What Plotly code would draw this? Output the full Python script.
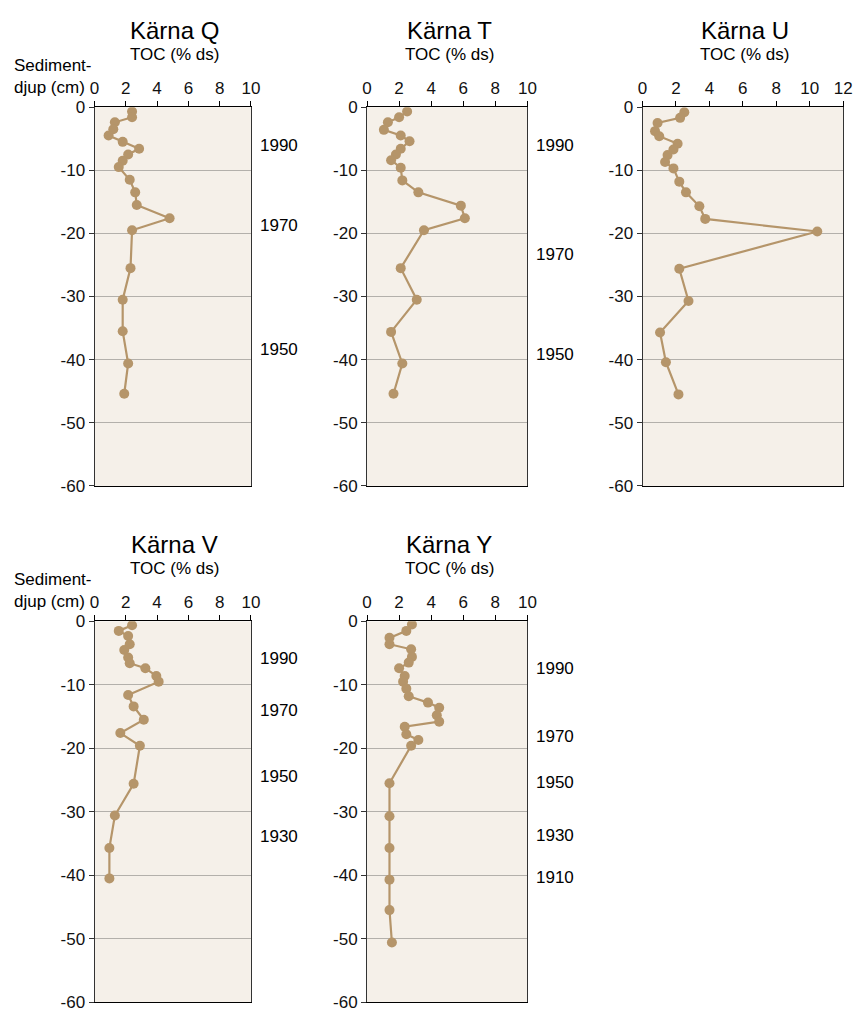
import plotly.graph_objects as go

# Sediment cores: depth (cm, negative downward) and TOC (% of dry substance)
depth_q = [-0.7, -1.6, -2.4, -3.5, -4.5, -5.5, -6.6, -7.5, -8.5, -9.5,
           -11.5, -13.5, -15.5, -17.6, -19.5, -25.5, -30.5, -35.5, -40.6, -45.4]
toc_q = [2.4, 2.4, 1.3, 1.2, 0.9, 1.8, 2.85, 2.15, 1.8, 1.55,
         2.25, 2.6, 2.7, 4.8, 2.4, 2.3, 1.8, 1.8, 2.15, 1.9]

depth_t = [-0.7, -1.6, -2.4, -3.6, -4.5, -5.4, -6.6, -7.5, -8.4, -9.6,
           -11.6, -13.5, -15.6, -17.6, -19.5, -25.5, -30.5, -35.6, -40.6, -45.4]
toc_t = [2.5, 2.0, 1.3, 1.05, 2.1, 2.65, 2.1, 1.8, 1.5, 2.1,
         2.2, 3.2, 5.85, 6.1, 3.55, 2.1, 3.1, 1.5, 2.2, 1.65]

depth_u = [-0.8, -1.7, -2.5, -3.8, -4.6, -5.8, -6.7, -7.6, -8.7, -9.7,
           -11.8, -13.5, -15.7, -17.7, -19.7, -25.6, -30.7, -35.7, -40.4, -45.5]
toc_u = [2.5, 2.25, 0.9, 0.75, 1.0, 2.1, 1.85, 1.5, 1.35, 1.85,
         2.2, 2.6, 3.4, 3.75, 10.45, 2.2, 2.75, 1.05, 1.4, 2.15]

depth_v = [-0.6, -1.5, -2.3, -3.6, -4.5, -5.7, -6.6, -7.4, -8.6, -9.5,
           -11.6, -13.4, -15.5, -17.6, -19.6, -25.6, -30.6, -35.7, -40.5]
toc_v = [2.4, 1.55, 2.15, 2.25, 1.9, 2.15, 2.25, 3.25, 3.95, 4.1,
         2.15, 2.5, 3.15, 1.65, 2.9, 2.5, 1.3, 0.95, 0.95]

depth_y = [-0.5, -1.5, -2.6, -3.6, -4.4, -5.6, -6.5, -7.4, -8.6, -9.5,
           -10.6, -11.8, -12.8, -13.6, -14.8, -15.8, -16.6, -17.8, -18.7, -19.6,
           -25.5, -30.7, -35.7, -40.7, -45.5, -50.6]
toc_y = [2.8, 2.45, 1.4, 1.4, 2.75, 2.8, 2.6, 2.0, 2.35, 2.25,
         2.45, 2.6, 3.8, 4.5, 4.35, 4.5, 2.35, 2.45, 3.2, 2.75,
         1.4, 1.4, 1.4, 1.4, 1.4, 1.55]

# Dating marks shown beside each core
years_q = ["1990", "1970", "1950"]
year_depth_q = [-6.0, -18.7, -38.4]
years_t = ["1990", "1970", "1950"]
year_depth_t = [-6.0, -23.3, -39.2]
years_v = ["1990", "1970", "1950", "1930"]
year_depth_v = [-5.8, -14.1, -24.4, -33.9]
years_y = ["1990", "1970", "1950", "1930", "1910"]
year_depth_y = [-7.4, -18.2, -25.4, -33.7, -40.4]

x_ticks_10 = [0, 2, 4, 6, 8, 10]
x_ticks_12 = [0, 2, 4, 6, 8, 10, 12]
y_ticks = [0, -10, -20, -30, -40, -50, -60]
y_tick_text = ["0", "-10", "-20", "-30", "-40", "-50", "-60"]

W, H = 864, 1019
FONT = "Liberation Sans, Arial, sans-serif"
BROWN = "#b5956a"
BG = "#f5f0e9"

cores = [
    dict(name="Kärna Q", d=depth_q, v=toc_q, xmax=10, xt=x_ticks_10,
         px=(91, 250), py=(100, 486), years=years_q, yd=year_depth_q, label=True),
    dict(name="Kärna T", d=depth_t, v=toc_t, xmax=10, xt=x_ticks_10,
         px=(368, 531), py=(100, 486), years=years_t, yd=year_depth_t, label=False),
    dict(name="Kärna U", d=depth_u, v=toc_u, xmax=12, xt=x_ticks_12,
         px=(648, 852), py=(100, 486), years=[], yd=[], label=False),
    dict(name="Kärna V", d=depth_v, v=toc_v, xmax=10, xt=x_ticks_10,
         px=(91, 250), py=(624, 1012), years=years_v, yd=year_depth_v, label=True),
    dict(name="Kärna Y", d=depth_y, v=toc_y, xmax=10, xt=x_ticks_10,
         px=(368, 531), py=(624, 1012), years=years_y, yd=year_depth_y, label=False),
]

fig = go.Figure()
annotations = []
layout = {}

for i, c in enumerate(cores, start=1):
    sfx = "" if i == 1 else str(i)
    xa, ya = "x" + sfx, "y" + sfx
    fig.add_trace(go.Scatter(
        x=c["v"], y=c["d"], mode="lines+markers", xaxis=xa, yaxis=ya,
        line=dict(color=BROWN, width=2.2),
        marker=dict(color=BROWN, size=10),
        showlegend=False, hoverinfo="skip",
    ))
    x0, x1 = c["px"]
    y0, y1 = c["py"]
    layout["xaxis" + sfx] = dict(
        domain=[x0 / W, x1 / W], anchor=ya, side="top",
        range=[0, c["xmax"]], tickvals=c["xt"], ticks="outside", ticklen=5,
        tickcolor="#000", showline=True, linecolor="#000", linewidth=1.2,
        mirror=True, showgrid=False, zeroline=False,
        tickfont=dict(family=FONT, size=17, color="#111"), fixedrange=True,
    )
    layout["yaxis" + sfx] = dict(
        domain=[1 - y1 / H, 1 - y0 / H], anchor=xa,
        range=[-60, 0], tickvals=y_ticks, ticktext=y_tick_text,
        ticks="outside", ticklen=5,
        tickcolor="#333", showline=True, linecolor="#333", linewidth=1,
        mirror=True, showgrid=True, gridcolor="#b3b0ab", gridwidth=1,
        zeroline=False, tickfont=dict(family=FONT, size=17, color="#111"),
        fixedrange=True,
    )
    cx = (x0 + x1) / 2 / W + 2 / W
    annotations.append(dict(
        text=c["name"], xref="paper", yref="paper", x=cx, y=1 - (y0 - 78) / H,
        xanchor="center", yanchor="middle", showarrow=False,
        font=dict(family=FONT, size=24, color="#000"),
    ))
    annotations.append(dict(
        text="TOC (% ds)", xref="paper", yref="paper", x=cx, y=1 - (y0 - 54) / H,
        xanchor="center", yanchor="middle", showarrow=False,
        font=dict(family=FONT, size=17, color="#000"),
    ))
    if c["label"]:
        annotations.append(dict(
            text="Sediment-<br>djup (cm)", xref="paper", yref="paper",
            x=7 / W, y=1 - (y0 - 31) / H, xanchor="left", yanchor="middle",
            align="left", showarrow=False,
            font=dict(family=FONT, size=17, color="#000"),
        ))
    for yr, yd in zip(c["years"], c["yd"]):
        annotations.append(dict(
            text=yr, xref=xa + " domain", yref=ya, x=1, y=yd, xshift=7,
            xanchor="left", yanchor="middle", showarrow=False,
            font=dict(family=FONT, size=17, color="#000"),
        ))

fig.update_layout(
    width=W, height=H, margin=dict(l=0, r=0, t=0, b=0),
    paper_bgcolor="#ffffff", plot_bgcolor=BG,
    annotations=annotations, **layout,
)

fig.write_html("out.html")
